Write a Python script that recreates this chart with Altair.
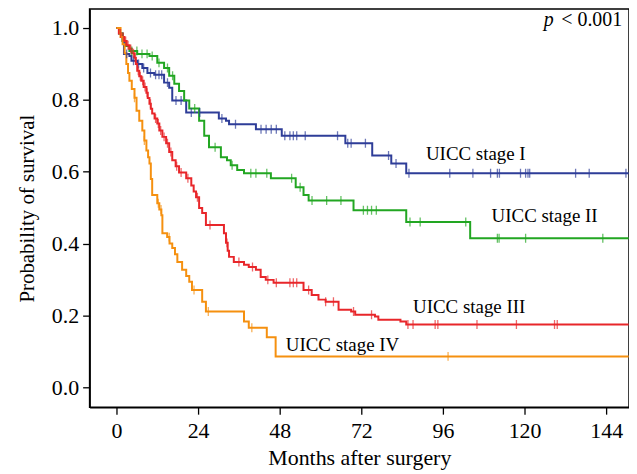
import bisect
import altair as alt
import pandas as pd

groups = ["UICC stage I", "UICC stage II", "UICC stage III", "UICC stage IV"]
colors = ["#2e3d98", "#22a622", "#e8262a", "#f5900f"]

# Stage I
t1 = [0, 0.8, 1.8, 2.2, 3.8, 4.4, 6.1, 7.6, 9.1, 11.1, 14.0, 15.5, 16.4, 20.5,
      30.1, 32.2, 33.1, 41.0, 48.6, 67.3, 75.2, 80.8, 85.2]
s1 = [1.0, 0.985, 0.964, 0.928, 0.922, 0.909, 0.900, 0.889, 0.875, 0.870, 0.848, 0.834, 0.798, 0.765,
      0.748, 0.742, 0.732, 0.718, 0.700, 0.679, 0.645, 0.623, 0.596]
c1 = [3.0, 5.0, 6.5, 8.0, 10.0, 11.5, 12.5, 13.3, 15.0, 17.5, 19.0, 22.0, 24.5, 31.0, 35.0,
      42.5, 44.0, 45.5, 47.0, 49.5, 51.0, 52.0, 53.0, 55.5, 65.0, 68.0, 69.0, 73.2, 80.0,
      82.2, 86.0, 98.0, 104.8, 110.0, 112.0, 112.6, 118.8, 120.3, 121.0, 121.5, 135.0,
      139.0, 149.8]

# Stage II
t2 = [0, 0.8, 1.8, 2.8, 3.8, 6.1, 9.7, 12.0, 14.0, 15.5, 17.0, 18.4, 19.9, 21.4, 24.3,
      25.8, 27.2, 30.7, 32.5, 33.6, 35.5, 37.5, 45.4, 52.7, 55.0, 56.5, 69.7, 85.2, 104.0]
s2 = [1.0, 0.985, 0.964, 0.950, 0.936, 0.928, 0.922, 0.903, 0.889, 0.867, 0.845, 0.825, 0.798, 0.776, 0.742,
      0.700, 0.668, 0.640, 0.632, 0.618, 0.605, 0.596, 0.582, 0.557, 0.535, 0.520, 0.493, 0.460, 0.415]
c2 = [4.5, 6.0, 7.5, 9.0, 10.5, 12.5, 15.0, 16.5, 23.0, 29.0, 34.0, 39.5, 41.0, 44.2, 51.5,
      54.0, 57.5, 61.8, 66.0, 72.6, 73.8, 75.0, 76.4, 86.3, 89.3, 102.7, 112.0, 112.5,
      120.3, 143.0]

# Stage III
t3 = [0, 0.7, 1.5, 2.3, 3.0, 3.8, 4.5, 5.3, 5.7, 6.1, 6.7, 7.3, 8.0, 8.8, 9.2, 9.7, 10.1,
      10.5, 11.2, 12.0, 12.6, 13.5, 14.6, 15.5, 16.4, 17.4, 18.4, 20.5, 22.0, 22.7, 23.4,
      24.3, 25.2, 26.3, 31.6, 32.2, 32.7, 33.1, 34.5, 37.5, 38.9, 41.0, 42.4, 43.9, 46.2,
      55.0, 57.4, 59.4, 61.5, 65.3, 69.0, 70.2, 76.0, 77.0, 83.5, 85.2]
s3 = [1.0, 0.985, 0.975, 0.964, 0.952, 0.942, 0.930, 0.917, 0.900, 0.881, 0.866, 0.853, 0.836, 0.820, 0.805, 0.789, 0.775,
      0.762, 0.748, 0.734, 0.715, 0.697, 0.679, 0.655, 0.632, 0.615, 0.598, 0.582, 0.562, 0.545, 0.529,
      0.499, 0.485, 0.452, 0.429, 0.402, 0.380, 0.363, 0.349, 0.341, 0.335, 0.327, 0.307, 0.299, 0.291,
      0.271, 0.257, 0.244, 0.238, 0.216, 0.211, 0.202, 0.197, 0.188, 0.183, 0.175]
c3 = [1.2, 2.0, 2.7, 3.4, 4.2, 5.0, 5.5, 6.4, 7.0, 7.7, 8.4, 9.0, 10.0, 11.5, 12.3, 13.0,
      14.0, 15.0, 16.0, 17.7, 19.0, 21.0, 23.8, 27.5, 32.5, 36.0, 40.0, 44.5, 47.0, 51.0,
      52.0, 53.0, 56.5, 61.5, 63.8, 69.7, 75.0, 85.7, 87.2, 93.7, 94.5, 106.0, 117.6,
      128.8, 129.6]

# Stage IV
t4 = [0, 1.2, 1.8, 2.4, 2.9, 3.4, 3.8, 4.5, 5.3, 5.9, 6.7, 7.6, 8.2, 8.8, 9.3, 9.7, 10.1,
      10.5, 12.0, 12.6, 13.2, 13.5, 14.9, 15.6, 16.4, 17.2, 17.9, 19.3, 20.5, 21.4, 22.2,
      25.2, 26.3, 37.5, 38.9, 44.2, 46.8]
s4 = [1.0, 0.975, 0.955, 0.930, 0.900, 0.875, 0.853, 0.830, 0.806, 0.770, 0.742, 0.715, 0.687, 0.659, 0.640, 0.623, 0.580,
      0.535, 0.512, 0.495, 0.479, 0.429, 0.418, 0.400, 0.388, 0.370, 0.349, 0.327, 0.310, 0.294, 0.271,
      0.238, 0.211, 0.183, 0.166, 0.139, 0.086]
c4 = [5.3, 8.2, 12.3, 13.1, 15.5, 22.8, 27.0, 39.8, 97.5]

end_time = 150.6

x_ticks = [0, 24, 48, 72, 96, 120, 144]
y_ticks = [0.0, 0.2, 0.4, 0.6, 0.8, 1.0]

label_x = [91.0, 110.3, 87.2, 49.8]
label_y = [0.632, 0.461, 0.208, 0.102]

series = [(t1, s1, c1), (t2, s2, c2), (t3, s3, c3), (t4, s4, c4)]

line_rows, cens_rows = [], []
for g, (ts, ss, cs) in zip(groups, series):
    for t, s in zip(ts, ss):
        line_rows.append({"g": g, "t": t, "s": s})
    line_rows.append({"g": g, "t": end_time, "s": ss[-1]})
    for c in cs:
        i = bisect.bisect_right(ts, c) - 1
        cens_rows.append({"g": g, "t": c, "s": ss[i]})

lines_df = pd.DataFrame(line_rows)
cens_df = pd.DataFrame(cens_rows)
labels_df = pd.DataFrame({"g": groups, "x": label_x, "y": label_y})

FONT = "Liberation Serif"
xs = alt.Scale(domain=[-7.9, 150.7], nice=False, zero=False)
ys = alt.Scale(domain=[-0.0554, 1.0526], nice=False, zero=False)
cs = alt.Scale(domain=groups, range=colors)

x_enc = alt.X("t:Q", scale=xs, axis=alt.Axis(values=x_ticks, title="Months after surgery", format="d",
                                             labelPadding=6, titlePadding=7))
y_enc = alt.Y("s:Q", scale=ys, axis=alt.Axis(values=y_ticks, title="Probability of survival", format=".1f",
                                             labelPadding=4, titlePadding=14, titleFontSize=21))

lines = alt.Chart(lines_df).mark_line(interpolate="step-after", strokeWidth=2, clip=True).encode(
    x=x_enc, y=y_enc, color=alt.Color("g:N", scale=cs, legend=None)
)

cens = alt.Chart(cens_df).mark_tick(orient="vertical", size=9, thickness=1.3, clip=True).encode(
    x="t:Q", y="s:Q", color=alt.Color("g:N", scale=cs, legend=None)
)

labels = alt.Chart(labels_df).mark_text(
    font=FONT, fontSize=19, align="left", baseline="alphabetic", color="black"
).encode(x="x:Q", y="y:Q", text="g:N")

p_df = pd.DataFrame({"x": [125.6], "y": [1.006], "txt": ["p"]})
pv_df = pd.DataFrame({"x": [148.7], "y": [1.006], "txt": ["< 0.001"]})
p_text = alt.Chart(p_df).mark_text(
    font=FONT, fontSize=20, fontStyle="italic", align="left", baseline="alphabetic", color="black"
).encode(x="x:Q", y="y:Q", text="txt:N")
pv_text = alt.Chart(pv_df).mark_text(
    font=FONT, fontSize=20, align="right", baseline="alphabetic", color="black"
).encode(x="x:Q", y="y:Q", text="txt:N")

chart = alt.layer(lines, cens, labels, p_text, pv_text).properties(
    width=542, height=400,
    autosize=alt.AutoSizeParams(type="none"),
    padding={"left": 82, "top": 0, "right": 0, "bottom": 66},
).configure_view(
    stroke="black", strokeWidth=1.5
).configure_axis(
    grid=False, labelFont=FONT, titleFont=FONT, labelFontSize=22, titleFontSize=22,
    titleFontWeight="normal", labelColor="black", titleColor="black",
    tickColor="black", domainColor="black", domainWidth=1.5, tickWidth=1.3, tickSize=7
)

chart.save("out.html", embed_options={"renderer": "svg", "actions": False})
